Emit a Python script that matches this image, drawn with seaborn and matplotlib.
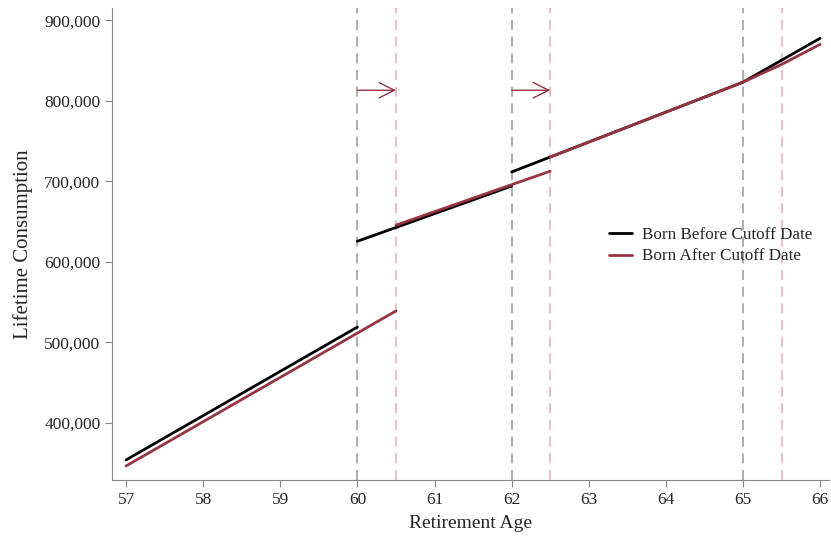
import matplotlib
matplotlib.use("Agg")
import matplotlib.pyplot as plt
import seaborn as sns
import pandas as pd

# Born before cutoff: segments between cutoff ages
before_seg = [0, 0, 1, 1, 2, 2, 3, 3]
before_age = [57, 60, 60, 62, 62, 65, 65, 66]
before_val = [354000, 519000, 625500, 694000, 711500, 823000, 823000, 877500]

# Born after cutoff: cutoffs shifted by half a year
after_seg = [0, 0, 1, 1, 2, 2, 2, 2]
after_age = [57, 60.5, 60.5, 62.5, 62.5, 65.0, 65.5, 66]
after_val = [346500, 539000, 645500, 712500, 730000, 823000, 845000, 870000]

old_cutoffs = [60, 62, 65]
new_cutoffs = [60.5, 62.5, 65.5]
arrow_y = 813000

black = "#000000"
red = "#963541"

sns.set_style("ticks")
plt.rcParams["font.family"] = ["Liberation Serif", "DejaVu Serif"]

df_b = pd.DataFrame({"age": before_age, "val": before_val, "seg": before_seg})
df_a = pd.DataFrame({"age": after_age, "val": after_val, "seg": after_seg})

fig = plt.figure(figsize=(8.31, 5.4), dpi=100)
ax = fig.add_axes([0.135, 0.111, 0.863, 0.874])

for x in old_cutoffs:
    ax.axvline(x, color="#a0a0a0", ls=(0, (6, 4)), lw=1.2, zorder=1)
for x in new_cutoffs:
    ax.axvline(x, color="#e6b3ba", ls=(0, (6, 4)), lw=1.2, zorder=1)

sns.lineplot(data=df_b, x="age", y="val", units="seg", estimator=None,
             color=black, lw=2, ax=ax, sort=False, label="Born Before Cutoff Date", zorder=3)
sns.lineplot(data=df_a, x="age", y="val", units="seg", estimator=None,
             color=red, lw=2, ax=ax, sort=False, label="Born After Cutoff Date", zorder=4)

for x0, x1 in zip(old_cutoffs[:2], new_cutoffs[:2]):
    ax.annotate("", xy=(x1, arrow_y), xytext=(x0, arrow_y),
                arrowprops=dict(arrowstyle="->,head_length=1.1,head_width=0.55",
                                color=red, lw=1, shrinkA=0, shrinkB=0))

ax.set_xlim(56.82, 66.12)
ax.set_ylim(329000, 915000)
ax.set_xticks(range(57, 67))
ax.set_yticks([400000, 500000, 600000, 700000, 800000, 900000])
ax.yaxis.set_major_formatter(matplotlib.ticker.StrMethodFormatter("{x:,.0f}"))
ax.tick_params(labelsize=12.5, color="#888888", length=5)
ax.set_xlabel("Retirement Age", fontsize=14, labelpad=5)
ax.set_ylabel("Lifetime Consumption", fontsize=15, labelpad=8)
sns.despine(ax=ax)
for s in ["left", "bottom"]:
    ax.spines[s].set_color("#888888")

# one legend entry per series
handles, labels = ax.get_legend_handles_labels()
uniq = {}
for h, l in zip(handles, labels):
    uniq.setdefault(l, h)
ax.legend(list(uniq.values()), list(uniq.keys()), frameon=False, fontsize=12.3,
          loc="center left", bbox_to_anchor=(0.672, 0.497), handlelength=1.3,
          handletextpad=0.6, labelspacing=0.35)

fig.savefig("out.png", dpi=100)
